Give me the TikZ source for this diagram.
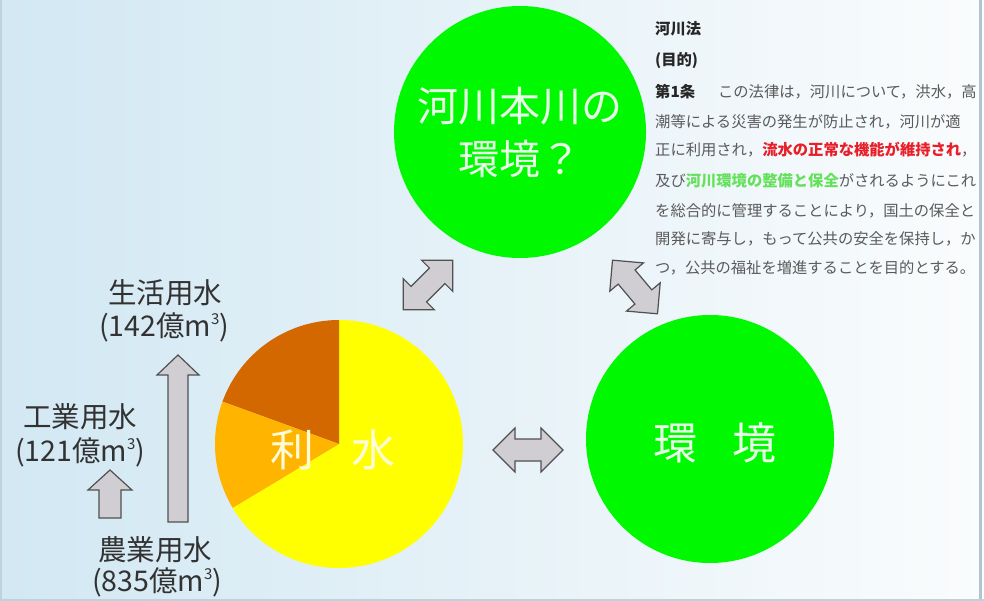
\documentclass[tikz,border=0pt]{standalone}
\usepackage{fontspec}
\setmainfont{Noto Sans CJK JP}
\definecolor{bgL}{RGB}{210,232,243}
\definecolor{bgR}{RGB}{250,252,253}
\definecolor{grn}{RGB}{0,248,0}
\definecolor{ylw}{RGB}{255,255,0}
\definecolor{orn}{RGB}{255,180,0}
\definecolor{dor}{RGB}{212,104,0}
\definecolor{arrfill}{RGB}{208,206,210}
\definecolor{arrline}{RGB}{80,80,80}
\definecolor{lbl}{RGB}{50,50,50}
\definecolor{txt}{RGB}{90,90,90}
\definecolor{redt}{RGB}{232,30,40}
\definecolor{grnt}{RGB}{100,225,90}
\definecolor{ctxt}{RGB}{232,255,232}
\definecolor{ptxt}{RGB}{255,250,215}
\definecolor{framec}{RGB}{175,198,208}
\newcommand{\cubic}{\raisebox{0.42em}{\fontsize{15}{15}\selectfont 3}}
\begin{document}
\begin{tikzpicture}[x=1pt,y=-1pt,
  blockarrow/.style={fill=arrfill, draw=arrline, line width=1.2pt, line join=miter},
  dblarrow/.pic={\path[blockarrow] (-35,0) -- (-13,-22) -- (-13,-11) -- (13,-11) -- (13,-22) -- (35,0) -- (13,22) -- (13,11) -- (-13,11) -- (-13,22) -- cycle;},
  bigcircle/.style={circle, fill=grn, inner sep=0pt, text=ctxt, align=center, font=\fontsize{41}{53}\selectfont},
  lbl/.style={text=lbl, inner sep=0pt, font=\fontsize{28.5}{30}\selectfont},
  para/.style={anchor=west, text=txt, inner sep=0pt, font=\fontsize{15.3}{18}\selectfont},
  head/.style={para, text=black!85}
]
\useasboundingbox (0,0) rectangle (984,601);
\shade[left color=bgL, right color=bgR] (0,0) rectangle (984,601);
\draw[framec, line width=3pt] (980,0) -- (980,601);
\draw[framec!80, line width=2pt] (1,0) -- (1,601);
\draw[framec!80, line width=2pt] (0,600) -- (984,600);

% green circles
\node[bigcircle, minimum size=252pt] (kasen) at (520,132) {河川本川の\\環境？};
\node[bigcircle, minimum size=248pt] (kankyo) at (710,439) {};
\node[text=ctxt, inner sep=0pt, font=\fontsize{44}{50}\selectfont] (kankyot) at (715,443) {環\hspace{35pt}境};

% pie
\coordinate (pc) at (339,444);
\fill[ylw] (pc) -- ++(90:124pt) arc[start angle=90, end angle=-149, radius=124pt] -- cycle;
\fill[dor] (pc) -- ++(90:124pt) arc[start angle=90, end angle=160, radius=124pt] -- cycle;
\fill[orn] (pc) -- ++(160:124pt) arc[start angle=160, end angle=211, radius=124pt] -- cycle;
\node[text=ptxt, inner sep=0pt, font=\fontsize{44}{50}\selectfont] (risui) at (333,450) {利\hspace{37pt}水};

% double arrows
\pic[rotate=45] at (428,285) {dblarrow};
\pic[rotate=-50] at (635,287) {dblarrow};
\pic at (528,450) {dblarrow};

% left labels
\node[lbl] (seikatsu) at (165,293) {生活用水};
\node[lbl] (seikatsuv) at (164,327) {(142億m\cubic)};
\node[lbl] (kogyo) at (80,417) {工業用水};
\node[lbl] (kogyov) at (80,452) {(121億m\cubic)};
\node[lbl] (nogyo) at (155,550) {農業用水};
\node[lbl] (nogyov) at (157,582) {(835億m\cubic)};

% up arrows
\path[blockarrow] (168,522) -- (168,375) -- (157,375) -- (178,355) -- (199,375) -- (188,375) -- (188,522) -- cycle;
\path[blockarrow] (99,518) -- (99,490) -- (88,490) -- (110,470) -- (132,490) -- (121,490) -- (121,518) -- cycle;

% law text
\node[head] (l0) at (655,29) {\textbf{河川法}};
\node[head] (l1) at (655,61) {\textbf{(目的)}};
\node[para] (l2) at (655,92) {\textcolor{black!85}{\textbf{第1条}}\hspace{23pt}この法律は，河川について，洪水，高};
\node[para] (l3) at (655,122) {潮等による災害の発生が防止され，河川が適};
\node[para] (l4) at (655,150) {正に利用され，\textcolor{redt}{\textbf{流水の正常な機能が維持され}}，};
\node[para] (l5) at (655,181) {及び\textcolor{grnt}{\textbf{河川環境の整備と保全}}がされるようにこれ};
\node[para] (l6) at (655,211) {を総合的に管理することにより，国土の保全と};
\node[para] (l7) at (655,239) {開発に寄与し，もって公共の安全を保持し，か};
\node[para] (l8) at (655,268) {つ，公共の福祉を増進することを目的とする。};
\end{tikzpicture}
\end{document}
